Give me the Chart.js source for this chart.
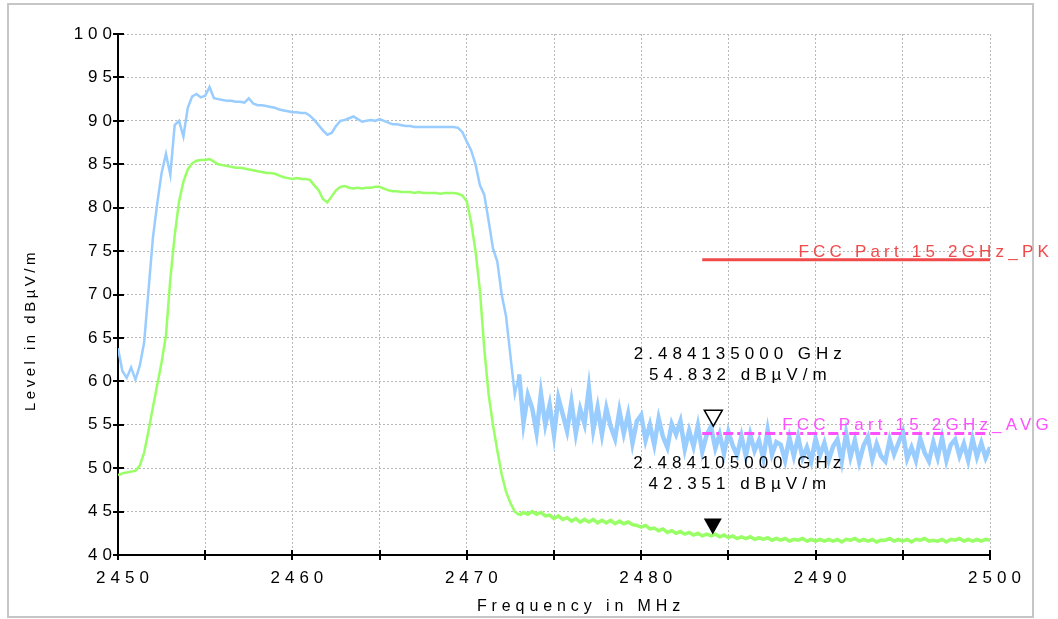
<!DOCTYPE html>
<html>
<head>
  <meta charset="utf-8">
  <title>Level vs Frequency</title>
  <script src="https://cdn.jsdelivr.net/npm/chart.js"></script>
  <style>
    body { margin: 0; padding: 0; background: #fff; }
    #chart { display: block; }
  </style>
</head>
<body>
  <canvas id="chart" width="1058" height="619"></canvas>

  <script>
    // Frequency grid in MHz (one value every 0.25 MHz)
    const freqMHz = [
      2450, 2450.25, 2450.5, 2450.75,
      2451, 2451.25, 2451.5, 2451.75,
      2452, 2452.25, 2452.5, 2452.75,
      2453, 2453.25, 2453.5, 2453.75,
      2454, 2454.25, 2454.5, 2454.75,
      2455, 2455.25, 2455.5, 2455.75,
      2456, 2456.25, 2456.5, 2456.75,
      2457, 2457.25, 2457.5, 2457.75,
      2458, 2458.25, 2458.5, 2458.75,
      2459, 2459.25, 2459.5, 2459.75,
      2460, 2460.25, 2460.5, 2460.75,
      2461, 2461.25, 2461.5, 2461.75,
      2462, 2462.25, 2462.5, 2462.75,
      2463, 2463.25, 2463.5, 2463.75,
      2464, 2464.25, 2464.5, 2464.75,
      2465, 2465.25, 2465.5, 2465.75,
      2466, 2466.25, 2466.5, 2466.75,
      2467, 2467.25, 2467.5, 2467.75,
      2468, 2468.25, 2468.5, 2468.75,
      2469, 2469.25, 2469.5, 2469.75,
      2470, 2470.25, 2470.5, 2470.75,
      2471, 2471.25, 2471.5, 2471.75,
      2472, 2472.25, 2472.5, 2472.75,
      2473, 2473.25, 2473.5, 2473.75,
      2474, 2474.25, 2474.5, 2474.75,
      2475, 2475.25, 2475.5, 2475.75,
      2476, 2476.25, 2476.5, 2476.75,
      2477, 2477.25, 2477.5, 2477.75,
      2478, 2478.25, 2478.5, 2478.75,
      2479, 2479.25, 2479.5, 2479.75,
      2480, 2480.25, 2480.5, 2480.75,
      2481, 2481.25, 2481.5, 2481.75,
      2482, 2482.25, 2482.5, 2482.75,
      2483, 2483.25, 2483.5, 2483.75,
      2484, 2484.25, 2484.5, 2484.75,
      2485, 2485.25, 2485.5, 2485.75,
      2486, 2486.25, 2486.5, 2486.75,
      2487, 2487.25, 2487.5, 2487.75,
      2488, 2488.25, 2488.5, 2488.75,
      2489, 2489.25, 2489.5, 2489.75,
      2490, 2490.25, 2490.5, 2490.75,
      2491, 2491.25, 2491.5, 2491.75,
      2492, 2492.25, 2492.5, 2492.75,
      2493, 2493.25, 2493.5, 2493.75,
      2494, 2494.25, 2494.5, 2494.75,
      2495, 2495.25, 2495.5, 2495.75,
      2496, 2496.25, 2496.5, 2496.75,
      2497, 2497.25, 2497.5, 2497.75,
      2498, 2498.25, 2498.5, 2498.75,
      2499, 2499.25, 2499.5, 2499.75,
      2500
    ];

    // Peak trace (light blue), dBuV/m
    const peakLevel = [
      63.8, 61.2, 60.4, 61.6,
      60.2, 61.8, 64.5, 70.5,
      76.5, 80.5, 84.0, 86.2,
      83.8, 89.5, 90.0, 88.2,
      91.5, 92.8, 93.1, 92.7,
      92.9, 93.9, 92.6, 92.5,
      92.4, 92.3, 92.3, 92.2,
      92.2, 92.1, 92.6, 92.0,
      91.8, 91.8, 91.7, 91.6,
      91.5, 91.3, 91.2, 91.1,
      91.0, 91.0, 90.9, 90.9,
      90.6, 90.1, 89.5, 88.9,
      88.4, 88.6, 89.4, 90.0,
      90.1, 90.3, 90.5, 90.2,
      89.9, 90.0, 90.1, 90.0,
      90.2, 90.0, 89.8, 89.6,
      89.6, 89.5, 89.4, 89.4,
      89.3, 89.3, 89.3, 89.3,
      89.3, 89.3, 89.3, 89.3,
      89.3, 89.3, 89.2, 88.7,
      87.6, 86.6, 85.0, 82.6,
      81.5, 78.5, 75.3, 73.8,
      70.0, 67.5, 63.0, 58.5,
      60.8, 55.2, 58.4, 56.9,
      54.1, 58.6, 55.0, 57.3,
      53.8, 58.1, 56.2, 54.3,
      57.6, 54.0, 56.8, 55.1,
      59.2, 54.4, 57.0, 53.9,
      56.9, 54.8, 53.4, 56.6,
      54.0, 56.2, 52.9, 55.4,
      56.1, 53.2, 55.0, 52.7,
      55.7, 53.6, 52.4, 55.1,
      53.9, 55.4, 52.2, 54.3,
      52.5, 54.9, 51.9, 53.8,
      54.8, 52.3, 53.9, 51.7,
      54.2, 52.6, 51.5, 53.7,
      51.4, 53.9, 52.0, 53.2,
      51.1, 54.4, 51.6, 53.0,
      52.7, 50.9, 53.5, 51.4,
      53.6, 51.2, 52.4, 50.8,
      53.4, 51.5, 52.9, 50.9,
      52.5, 53.3, 50.8, 54.0,
      51.3, 53.2, 50.7, 52.6,
      53.6, 51.0, 52.8, 51.4,
      50.8, 53.3, 51.6, 52.9,
      54.2, 51.1, 52.4, 50.9,
      53.4, 51.8, 50.8, 53.0,
      51.2, 53.5, 50.9, 52.7,
      53.3, 51.4, 52.8, 50.9,
      53.4, 51.3, 52.9, 51.2,
      52.4
    ];

    // Average trace (light green), dBuV/m
    const avgLevel = [
      49.2, 49.4, 49.5, 49.6,
      49.7, 50.3, 51.8, 54.3,
      57.0, 59.6, 62.2, 65.3,
      71.8, 76.8, 80.7, 83.0,
      84.4, 85.1, 85.4, 85.5,
      85.5, 85.6, 85.3, 85.0,
      84.9, 84.8, 84.7, 84.6,
      84.6, 84.5, 84.4, 84.3,
      84.2, 84.1, 84.0, 84.0,
      83.9, 83.7, 83.5, 83.4,
      83.3, 83.4, 83.3, 83.3,
      83.2, 82.6, 82.0, 81.0,
      80.6, 81.3, 82.0, 82.4,
      82.5, 82.3, 82.2, 82.3,
      82.2, 82.3, 82.3, 82.4,
      82.4, 82.2, 82.0, 81.9,
      81.9, 81.8, 81.8, 81.8,
      81.7, 81.8, 81.7, 81.7,
      81.7, 81.7, 81.6, 81.7,
      81.7, 81.7, 81.6, 81.4,
      80.7, 78.3, 75.0, 70.5,
      63.8, 58.5, 55.0, 52.0,
      49.3, 47.3, 46.0, 45.0,
      44.6, 44.9, 44.7, 45.0,
      44.7, 44.9, 44.5, 44.6,
      44.2, 44.5, 44.1, 44.3,
      43.9, 44.2, 43.8, 44.1,
      43.8, 44.1, 43.7, 44.0,
      43.7, 44.0, 43.6, 43.9,
      43.6, 43.8, 43.5, 43.4,
      43.2, 43.4, 43.0, 43.1,
      42.8, 43.0, 42.6, 42.8,
      42.5, 42.7, 42.4, 42.6,
      42.3, 42.5, 42.2, 42.4,
      42.2, 42.4, 42.1, 42.3,
      42.0, 42.2, 41.9, 42.1,
      41.9, 42.1, 41.8, 42.0,
      41.8, 42.0, 41.7, 41.9,
      41.7, 41.9, 41.6, 41.8,
      41.7, 41.9, 41.6, 41.8,
      41.6, 41.8, 41.6, 41.8,
      41.6, 41.8, 41.5, 41.8,
      41.7, 41.9, 41.6, 41.8,
      41.6, 41.8, 41.5, 41.7,
      41.7, 41.9, 41.6, 41.8,
      41.6, 41.8, 41.5, 41.8,
      41.7, 41.9, 41.6, 41.7,
      41.6, 41.8, 41.5, 41.8,
      41.7, 41.9, 41.6, 41.8,
      41.6, 41.8, 41.6, 41.8,
      41.7
    ];

    // Limit lines
    const limitFreq = [2483.5, 2500];
    const pkLimit = [74, 74];
    const avgLimit = [54, 54];
    const limitNames = ['FCC Part 15 2GHz_PK', 'FCC Part 15 2GHz_AVG'];

    // Markers: [0] on peak trace (open), [1] on average trace (filled)
    const markerFreq = [2484.135, 2484.105];
    const markerLevel = [54.832, 42.351];

    const FONT = '"Liberation Sans", Arial, sans-serif';

    function pts(xs, ys) {
      return xs.map((x, i) => ({ x: x, y: ys[i] }));
    }

    function spacedText(ctx, txt, x, y, opt) {
      ctx.save();
      ctx.font = opt.size + 'px ' + FONT;
      ctx.letterSpacing = opt.spacing + 'px';
      ctx.fillStyle = opt.color || '#000';
      ctx.textAlign = opt.align || 'left';
      ctx.textBaseline = opt.baseline || 'alphabetic';
      if (opt.rotate) {
        ctx.translate(x, y);
        ctx.rotate(opt.rotate);
        ctx.fillText(txt, 0, 0);
      } else {
        ctx.fillText(txt, x, y);
      }
      ctx.restore();
    }

    const extras = {
      id: 'extras',
      beforeDraw(chart) {
        // tick labels get the wide letter spacing of the original
        chart.ctx.letterSpacing = '5px';
      },
      afterDraw(chart) {
        const { ctx, chartArea: a } = chart;
        const xs = chart.scales.x, ys = chart.scales.y;
        ctx.save();
        ctx.letterSpacing = '0px';

        // outer frame
        ctx.strokeStyle = '#c6c6c6';
        ctx.lineWidth = 2;
        ctx.strokeRect(8, 4, 1025, 613);

        // ticks crossing the axes
        ctx.strokeStyle = '#000';
        ctx.lineWidth = 2;
        ctx.beginPath();
        xs.ticks.forEach(t => {
          const px = Math.round(xs.getPixelForValue(t.value));
          ctx.moveTo(px, a.bottom - 5);
          ctx.lineTo(px, a.bottom + 5);
        });
        ys.ticks.forEach(t => {
          const py = Math.round(ys.getPixelForValue(t.value));
          ctx.moveTo(a.left - 5, py);
          ctx.lineTo(a.left + 6, py);
        });
        ctx.stroke();

        // limit line names
        const rightPx = xs.getPixelForValue(2500);
        spacedText(ctx, limitNames[0], rightPx + 63, ys.getPixelForValue(pkLimit[1]) - 3,
          { size: 17, spacing: 4.2, color: '#f04a4a', align: 'right' });
        spacedText(ctx, limitNames[1], rightPx + 63, ys.getPixelForValue(avgLimit[1]) - 3,
          { size: 17, spacing: 4.2, color: '#ff50ff', align: 'right' });

        // markers and their readouts
        markerFreq.forEach((f, i) => {
          const mx = xs.getPixelForValue(f);
          const my = ys.getPixelForValue(markerLevel[i]);
          ctx.beginPath();
          ctx.moveTo(mx - 9, my - 16);
          ctx.lineTo(mx + 9, my - 16);
          ctx.lineTo(mx, my);
          ctx.closePath();
          if (i === 0) {
            ctx.fillStyle = '#fff';
            ctx.fill();
            ctx.strokeStyle = '#000';
            ctx.lineWidth = 1.5;
            ctx.stroke();
          } else {
            ctx.fillStyle = '#000';
            ctx.fill();
          }
          const l1 = (f / 1000).toFixed(9) + ' GHz';
          const l2 = markerLevel[i].toFixed(3) + ' dBµV/m';
          spacedText(ctx, l1, mx + 27, my - 67, { size: 17, spacing: 5, align: 'center' });
          spacedText(ctx, l2, mx + 27, my - 46, { size: 17, spacing: 5, align: 'center' });
        });

        // axis titles
        spacedText(ctx, 'Frequency in MHz', 581, 611, { size: 16, spacing: 4.9, align: 'center' });
        spacedText(ctx, 'Level in dBµV/m', 31, 330,
          { size: 15, spacing: 3.5, align: 'center', baseline: 'middle', rotate: -Math.PI / 2 });

        ctx.restore();
      }
    };

    const tickFont = { family: FONT, size: 17 };

    // the noisy tail of each trace is drawn a bit heavier so it reads as a band
    const noiseStart = 2473;
    const tailWidth = (thin, thick) => c => (c.p0.parsed.x >= noiseStart ? thick : thin);

    new Chart(document.getElementById('chart').getContext('2d'), {
      type: 'line',
      data: {
        datasets: [
          {
            label: limitNames[0],
            data: pts(limitFreq, pkLimit),
            borderColor: '#f04a4a',
            borderWidth: 3,
            pointRadius: 0
          },
          {
            label: limitNames[1],
            data: pts(limitFreq, avgLimit),
            borderColor: '#ff50ff',
            borderWidth: 3,
            borderDash: [10, 4, 3, 4],
            pointRadius: 0
          },
          {
            label: 'Average',
            data: pts(freqMHz, avgLevel),
            borderColor: '#99ff66',
            borderWidth: 2.5,
            pointRadius: 0,
            tension: 0,
            segment: { borderWidth: tailWidth(2.5, 3.5) }
          },
          {
            label: 'Peak',
            data: pts(freqMHz, peakLevel),
            borderColor: '#99ccff',
            borderWidth: 2.5,
            pointRadius: 0,
            tension: 0,
            segment: { borderWidth: tailWidth(2.5, 4.5) }
          }
        ]
      },
      options: {
        responsive: false,
        animation: false,
        layout: { padding: { top: 34, right: 68, bottom: 0, left: 0 } },
        plugins: {
          legend: { display: false },
          tooltip: { enabled: false }
        },
        scales: {
          x: {
            type: 'linear',
            min: 2450,
            max: 2500,
            ticks: {
              stepSize: 5,
              autoSkip: false,
              maxRotation: 0,
              padding: 13,
              labelOffset: 7,
              color: '#000',
              font: tickFont,
              callback: v => (v % 10 === 0 ? String(v) : '')
            },
            grid: { color: '#b8b8b8', lineWidth: 1, drawTicks: false },
            border: { display: true, color: '#000', width: 2, dash: [2, 2] },
            afterFit(s) { s.height = 64; }
          },
          y: {
            min: 40,
            max: 100,
            ticks: {
              stepSize: 2.5,
              padding: 1,
              color: '#000',
              font: tickFont,
              callback: v => (v % 5 === 0 ? String(v) : '')
            },
            grid: { color: '#b8b8b8', lineWidth: 1, drawTicks: false },
            border: { display: true, color: '#000', width: 2, dash: [2, 2] },
            afterFit(s) { s.width = 118; }
          }
        }
      },
      plugins: [extras]
    });
  </script>
</body>
</html>
